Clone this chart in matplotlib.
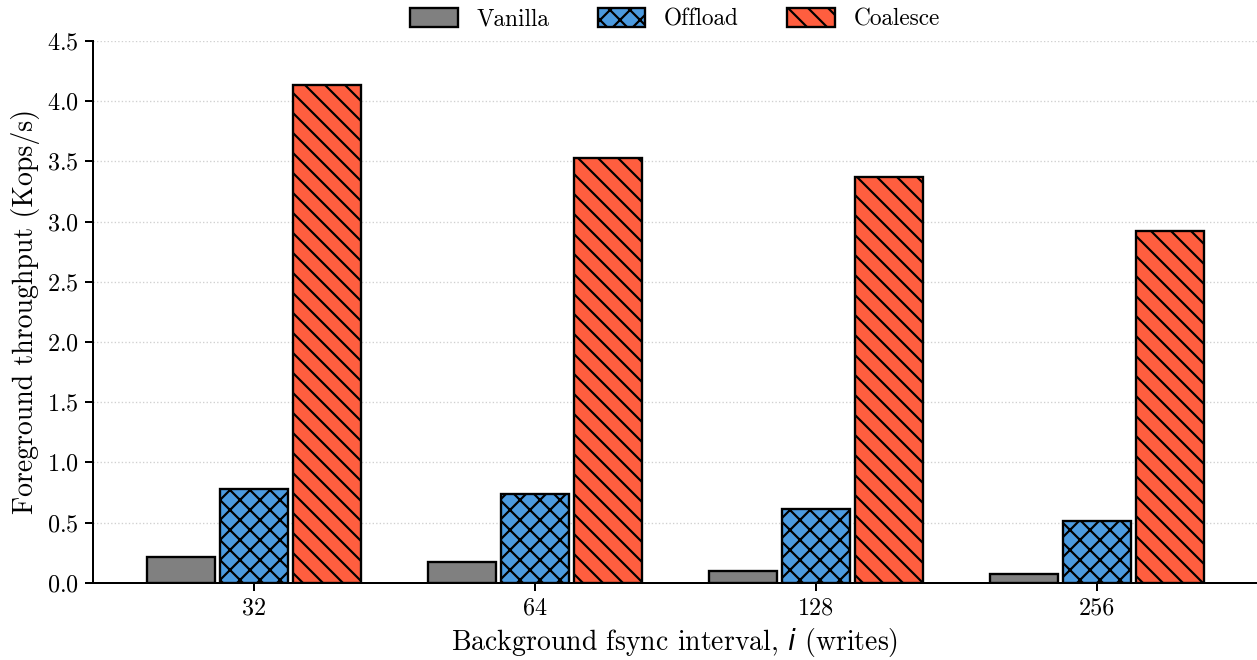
import matplotlib
matplotlib.use("Agg")
import matplotlib.pyplot as plt
import numpy as np

plt.rcParams['font.family'] = ['cmr10', 'DejaVu Serif']
plt.rcParams['axes.formatter.use_mathtext'] = True
plt.rcParams['mathtext.fontset'] = 'dejavusans'
plt.rcParams['hatch.linewidth'] = 1.3

intervals = ['32', '64', '128', '256']
series = ['Vanilla', 'Offload', 'Coalesce']
vanilla = [0.21, 0.175, 0.10, 0.07]
offload = [0.78, 0.74, 0.615, 0.515]
coalesce = [4.13, 3.53, 3.37, 2.92]

colors = ['#808080', '#4C9BE0', '#FF5E3F']
hatches = ['', 'xx', '\\\\']

fig = plt.figure(figsize=(1257 / 120, 660 / 120), dpi=120)
ax = fig.add_axes([0.074, 0.117, 0.926, 0.821])

x = np.arange(len(intervals))
width = 0.24
offsets = [-0.26, 0.0, 0.26]
for vals, name, c, h, off in zip([vanilla, offload, coalesce], series, colors, hatches, offsets):
    ax.bar(x + off, vals, width, color=c, edgecolor='black', linewidth=1.4,
           hatch=h, label=name, zorder=3)

ax.set_xlim(-0.573, 3.57)
ax.set_ylim(0, 4.5)
ax.set_yticks(np.arange(0, 4.51, 0.5))
ax.set_xticks(x)
ax.set_xticklabels(intervals)
ax.tick_params(labelsize=14.5, width=1.2, length=5)
ax.yaxis.grid(True, linestyle=':', color='#d0d0d0', linewidth=0.8, zorder=0)
ax.set_axisbelow(True)
for s in ['top', 'right']:
    ax.spines[s].set_visible(False)
for s in ['left', 'bottom']:
    ax.spines[s].set_linewidth(1.2)

ax.set_ylabel('Foreground throughput (Kops/s)', fontsize=16.7)
ax.set_xlabel('Background fsync interval, $i$ (writes)', fontsize=16.7)

ax.legend(loc='center', bbox_to_anchor=(0.5, 1.04), ncol=3, frameon=False,
          fontsize=14, handlelength=2.05, handleheight=0.85, columnspacing=2.05,
          handletextpad=0.8, borderaxespad=0)

fig.savefig('out.png', dpi=120)
